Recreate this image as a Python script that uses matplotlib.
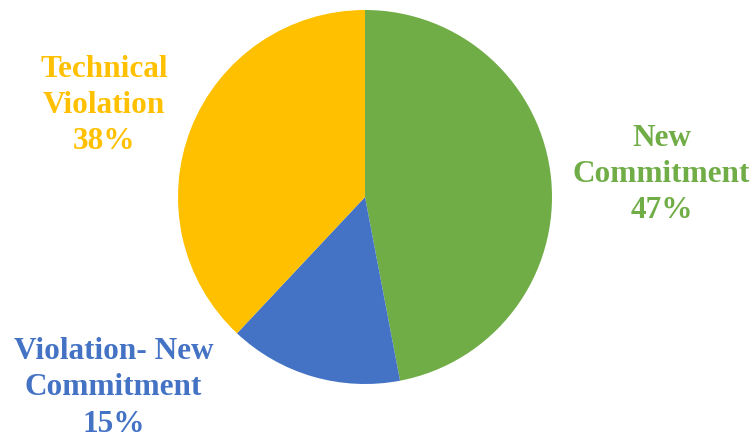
import matplotlib.pyplot as plt

categorias = ['New\nCommitment', 'Violation- New\nCommitment', 'Technical\nViolation']
valores = [47, 15, 38]
cores = ['#70AD47', '#4472C4', '#FFC000']
# posicoes dos rotulos em unidades do raio da pizza
pos_rotulos = [(1.585, 0.12), (-1.345, -1.02), (-1.395, 0.49)]

fig = plt.figure(figsize=(7.56, 4.38), dpi=100)
ax = fig.add_axes([178 / 756, 54 / 438, 374 / 756, 374 / 438])

ax.pie(valores, colors=cores, startangle=90, counterclock=False,
       wedgeprops={'linewidth': 0})
ax.set_xlim(-1, 1)
ax.set_ylim(-1, 1)
ax.set_aspect('equal')

for cat, val, cor, (x, y) in zip(categorias, valores, cores, pos_rotulos):
    ax.text(x, y, f'{cat}\n{val}%', color=cor, ha='center', va='center',
            fontsize=22.5, fontweight='bold', family='Liberation Serif',
            linespacing=1.33, clip_on=False)

fig.savefig('out.png', dpi=100)
